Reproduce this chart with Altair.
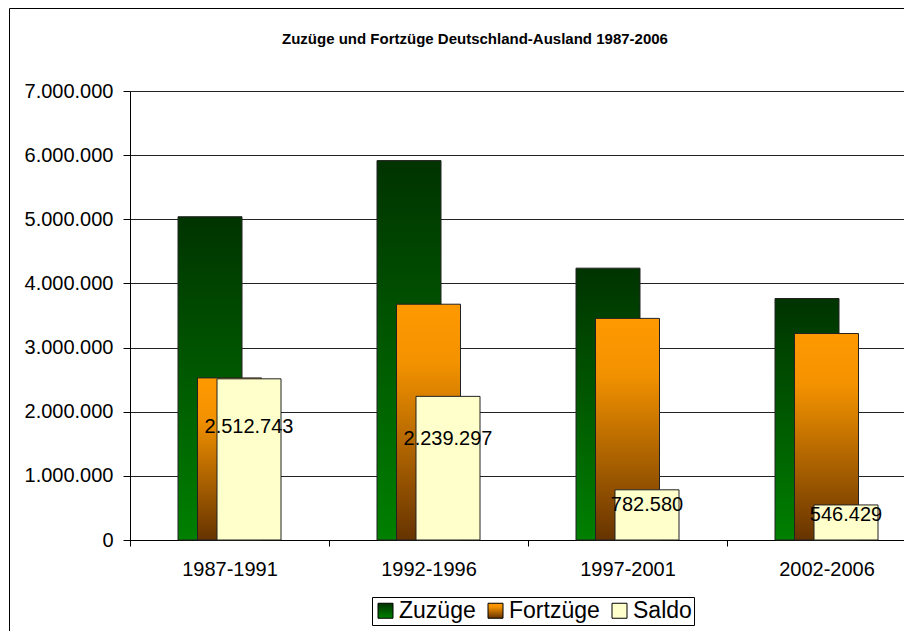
import altair as alt
import pandas as pd

categories = ["1987-1991", "1992-1996", "1997-2001", "2002-2006"]
series = ["Zuzüge", "Fortzüge", "Saldo"]
zuzuege = [5040000, 5915000, 4238000, 3765000]
fortzuege = [2527000, 3676000, 3455000, 3219000]
saldo = [2512743, 2239297, 782580, 546429]
y_ticks = [0, 1000000, 2000000, 3000000, 4000000, 5000000, 6000000, 7000000]

rows = []
for name, vals in zip(series, [zuzuege, fortzuege, saldo]):
    for c, v in zip(categories, vals):
        rows.append({"Zeitraum": c, "Reihe": name, "Wert": v})
df = pd.DataFrame(rows)

FONT = "Liberation Sans"

grad_zu = ("{gradient: 'linear', x1: 0, y1: 0, x2: 0, y2: 1, stops: ["
           "{offset: 0, color: '#003300'}, {offset: 1, color: '#008000'}]}")
grad_fo = ("{gradient: 'linear', x1: 0, y1: 0, x2: 0, y2: 1, stops: ["
           "{offset: 0, color: '#ff9900'}, {offset: 0.25, color: '#f39200'}, {offset: 1, color: '#663300'}]}")
grad_sa = "'#ffffcc'"

color = alt.Color(
    "Reihe:N",
    scale=alt.Scale(domain=series,
                    range=[alt.ExprRef(expr=grad_zu), alt.ExprRef(expr=grad_fo), alt.ExprRef(expr=grad_sa)]),
    legend=alt.Legend(
        title=None, orient="none", legendX=242, legendY=506, direction="horizontal",
        symbolType="square", symbolSize=225, symbolStrokeColor="black", symbolStrokeWidth=1,
        labelFont=FONT, labelFontSize=23, labelColor="black", labelOffset=2,
        columnPadding=8, padding=2, strokeColor="black", fillColor="white",
    ),
)

x = alt.X(
    "Zeitraum:N", sort=categories, title=None,
    scale=alt.Scale(range=[0, 796], paddingInner=0, paddingOuter=0),
    axis=alt.Axis(labelAngle=0, labelFont=FONT, labelFontSize=20, labelColor="black",
                  tickBand="extent", tickSize=6, tickColor="black", domainColor="black",
                  labelPadding=13, grid=False),
)
y = alt.Y(
    "Wert:Q", title=None,
    scale=alt.Scale(domain=[0, 7000000], nice=False),
    axis=alt.Axis(values=y_ticks, format=",d", labelFont=FONT, labelFontSize=20, labelColor="black",
                  tickSize=7, tickColor="black", domainColor="black", labelPadding=10,
                  grid=True, gridColor="#222222", gridWidth=1),
)

base = alt.Chart(df)
offsets = {"Zuzüge": -19.5, "Fortzüge": 0, "Saldo": 19.5}
layers = []
for s in series:
    layers.append(
        base.transform_filter(alt.datum.Reihe == s)
        .mark_bar(width=64, xOffset=offsets[s], stroke="#222222", strokeWidth=1)
        .encode(x=x, y=y, color=color)
    )

labels = (
    base.transform_filter(alt.datum.Reihe == "Saldo")
    .transform_calculate(pos="datum.Wert * 0.70")
    .mark_text(font=FONT, fontSize=20, color="black", xOffset=19.5, baseline="middle", align="center")
    .encode(x=x, y=alt.Y("pos:Q"), text=alt.Text("Wert:Q", format=",d"))
)

frame = (
    alt.Chart(pd.DataFrame({"f": [0]}))
    .mark_rect(fillOpacity=0, stroke="black", strokeWidth=1)
    .encode(x=alt.value(-120.5), x2=alt.value(900), y=alt.value(-82.5), y2=alt.value(600))
)

chart = (
    alt.layer(*layers, labels, frame)
    .properties(
        width=774, height=449,
        title=alt.TitleParams("Zuzüge und Fortzüge Deutschland-Ausland 1987-2006",
                              font=FONT, fontSize=15, fontWeight="bold", color="black",
                              anchor="middle", frame="group", baseline="alphabetic",
                              dx=-42, dy=51, offset=0),
        autosize=alt.AutoSizeParams(type="none"),
        padding={"left": 122, "top": 83, "right": 0, "bottom": 91},
        background="white",
    )
    .configure_view(fill="#c0c0c0", stroke=None)
    .configure(locale={"number": {"decimal": ",", "thousands": ".", "grouping": [3], "currency": ["", " €"]}})
)

chart.save("out.html", embed_options={"renderer": "svg", "actions": False})
